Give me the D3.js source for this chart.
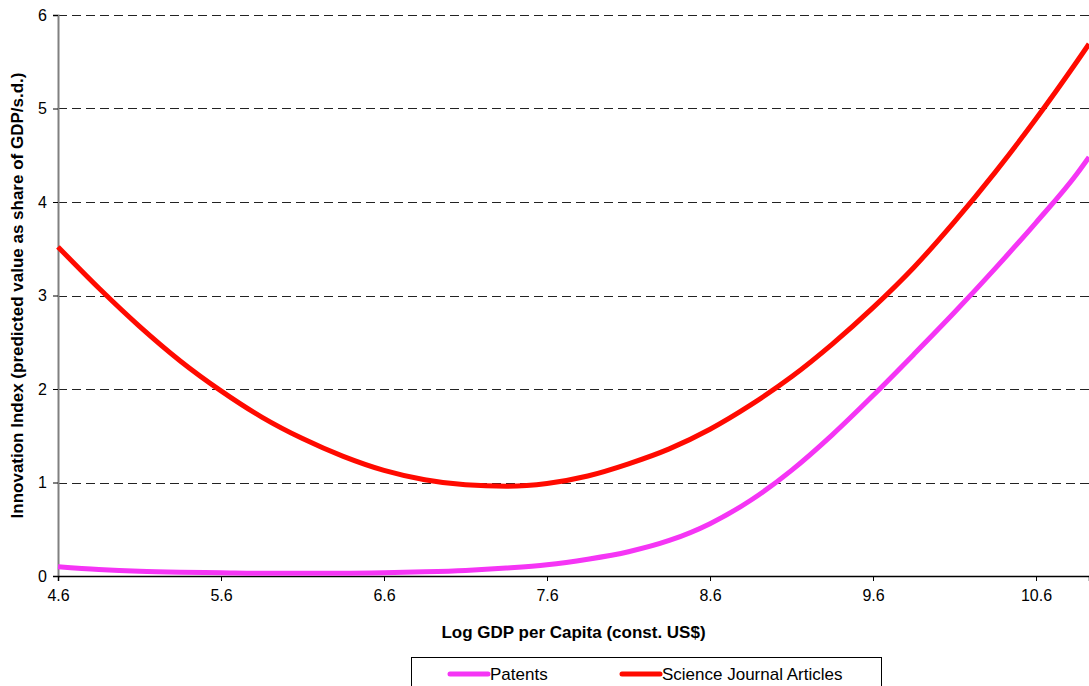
<!DOCTYPE html>
<html><head><meta charset="utf-8">
<script src="https://cdn.jsdelivr.net/npm/d3@7"></script>
<style>body{margin:0;background:#fff}svg{display:block;font-family:"Liberation Sans",Arial,sans-serif}</style>
</head><body><svg id="c" width="1089" height="686"></svg>
<script>
const logGdp = [4.6,4.85,5.1,5.35,5.6,5.85,6.1,6.35,6.6,6.85,7.1,7.35,7.6,7.85,8.1,8.35,8.6,8.85,9.1,9.35,9.6,9.85,10.1,10.35,10.6,10.85,10.925];
const patents = [0.10,0.07,0.05,0.04,0.035,0.03,0.03,0.03,0.035,0.045,0.06,0.085,0.12,0.18,0.26,0.38,0.56,0.81,1.13,1.51,1.93,2.37,2.82,3.29,3.78,4.30,4.48];
const science = [3.52,3.08,2.67,2.30,1.98,1.70,1.47,1.28,1.13,1.03,0.975,0.96,0.99,1.07,1.20,1.36,1.57,1.83,2.13,2.48,2.87,3.30,3.79,4.32,4.89,5.50,5.69];
const xTicks = [4.6,5.6,6.6,7.6,8.6,9.6,10.6];
const yTicks = [0,1,2,3,4,5,6];
const seriesNames = ["Patents","Science Journal Articles"];
const seriesColors = ["#F535F5","#FF0A00"];

const svg = d3.select("#c");
const L=58, R=1089, T=15, B=576;
const x = d3.scaleLinear().domain([4.6,10.925]).range([L,R]);
const y = d3.scaleLinear().domain([0,6]).range([B,T]);

// gridlines
svg.append("g").selectAll("line").data(yTicks.filter(d=>d>0)).join("line")
  .attr("x1",L).attr("x2",R).attr("y1",d=>Math.round(y(d))+0.5).attr("y2",d=>Math.round(y(d))+0.5)
  .attr("stroke","#222").attr("stroke-width",1).attr("stroke-dasharray","9,5");

// y axis
const yAx = svg.append("g").attr("transform",`translate(${L},0)`)
  .call(d3.axisLeft(y).tickValues(yTicks).tickSize(5).tickPadding(6).tickFormat(d3.format("d")));
yAx.select(".domain").attr("stroke","#808080").attr("stroke-width",2);
yAx.selectAll(".tick line").attr("stroke","#000");
yAx.selectAll("text").attr("font-size",16).attr("fill","#000").attr("font-family","Liberation Sans, Arial, sans-serif");

// x axis
const xAx = svg.append("g").attr("transform",`translate(0,${B})`)
  .call(d3.axisBottom(x).tickValues(xTicks).tickSize(5).tickPadding(9).tickFormat(d3.format(".1f")));
xAx.select(".domain").attr("stroke","#000").attr("stroke-width",1.5);
xAx.selectAll(".tick line").attr("stroke","#000");
xAx.selectAll("text").attr("font-size",16).attr("fill","#000").attr("font-family","Liberation Sans, Arial, sans-serif");

// lines
const line = d3.line().x((d,i)=>x(logGdp[i])).y(d=>y(d)).curve(d3.curveMonotoneX);
[patents,science].forEach((s,k)=>{
  svg.append("path").datum(s).attr("d",line).attr("fill","none")
    .attr("stroke",seriesColors[k]).attr("stroke-width",5).attr("stroke-linejoin","round");
});

// axis titles
svg.append("text").attr("x",(L+R)/2).attr("y",638).attr("text-anchor","middle")
  .attr("font-size",17).attr("font-weight","bold").text("Log GDP per Capita (const. US$)");
svg.append("text").attr("transform",`translate(23,${(T+B)/2}) rotate(-90)`).attr("text-anchor","middle")
  .attr("font-size",17).attr("font-weight","bold").text("Innovation Index (predicted value as share of GDP/s.d.)");

// legend
const lg = svg.append("g");
lg.append("rect").attr("x",411.5).attr("y",657.5).attr("width",470).attr("height",40)
  .attr("fill","#fff").attr("stroke","#000").attr("stroke-width",1);
const lx = [450,622];
seriesNames.forEach((n,k)=>{
  lg.append("line").attr("x1",lx[k]).attr("x2",lx[k]+38).attr("y1",674).attr("y2",674)
    .attr("stroke",seriesColors[k]).attr("stroke-width",5).attr("stroke-linecap","round");
  lg.append("text").attr("x",lx[k]+40).attr("y",680).attr("font-size",17).text(n);
});
</script></body></html>
